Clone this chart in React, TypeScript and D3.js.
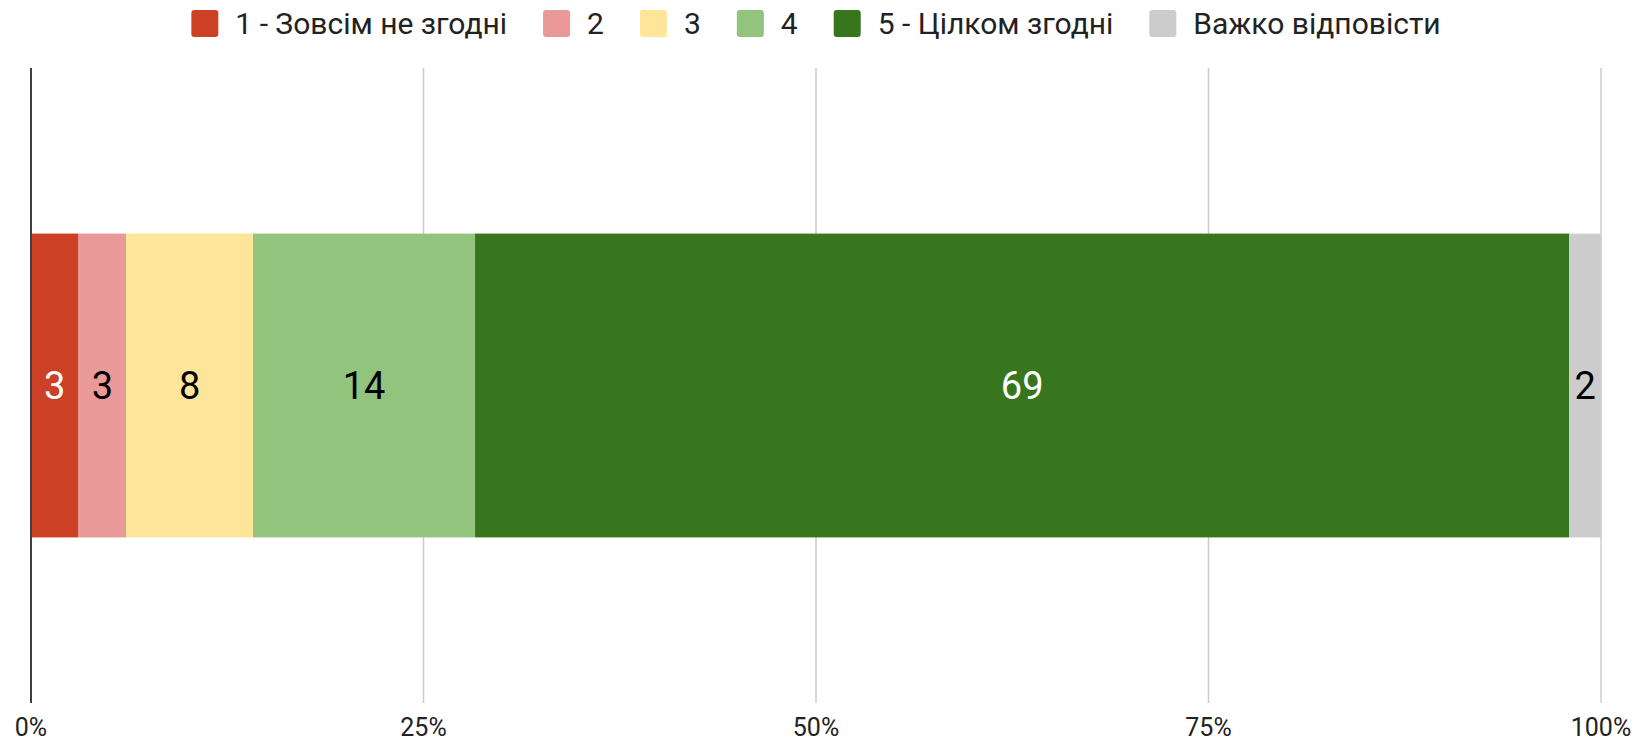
import React, { useEffect, useRef } from 'react';
import * as d3 from 'd3';

// answer categories and share of responses (%), one stacked bar
const categories = ['1 - Зовсім не згодні', '2', '3', '4', '5 - Цілком згодні', 'Важко відповісти'];
const values = [3, 3, 8, 14, 69, 2];
const colors = ['#cc4125', '#ea9999', '#ffe599', '#93c47d', '#38761d', '#cccccc'];
const labelColors = ['#ffffff', '#000000', '#000000', '#000000', '#ffffff', '#000000'];
const ticks = [0, 0.25, 0.5, 0.75, 1];

const App: React.FC = () => {
  const svgRef = useRef<SVGSVGElement | null>(null);

  useEffect(() => {
    if (!svgRef.current) return;
    const svg = d3.select(svgRef.current);
    svg.selectAll('*').remove();

    const width = 1637;
    const height = 742;
    const margin = { top: 68, right: 36, bottom: 39, left: 31 };
    const font = 'Roboto, sans-serif';

    const total = d3.sum(values);
    const x = d3.scaleLinear()
      .domain([0, 1])
      .range([margin.left, width - margin.right]);

    const y = d3.scaleBand()
      .domain(['row'])
      .range([margin.top, height - margin.bottom])
      .paddingInner(0)
      .paddingOuter(0.545);

    // grid + axis labels
    const grid = svg.append('g');
    grid.selectAll('line')
      .data(ticks)
      .join('line')
      .attr('x1', d => x(d))
      .attr('x2', d => x(d))
      .attr('y1', margin.top)
      .attr('y2', height - margin.bottom)
      .attr('stroke', d => d === 0 ? '#333333' : '#cccccc')
      .attr('stroke-width', 1.5);

    grid.selectAll('text')
      .data(ticks)
      .join('text')
      .attr('x', d => x(d))
      .attr('y', 736)
      .attr('text-anchor', 'middle')
      .attr('font-family', font)
      .attr('font-size', 25)
      .attr('fill', '#222222')
      .text(d => d3.format('.0%')(d));

    // stacked segments
    const starts = values.map((_, i) => d3.sum(values.slice(0, i)) / total);
    const segs = values.map((v, i) => ({ v, i, x0: starts[i], x1: starts[i] + v / total }));

    const bars = svg.append('g');
    bars.selectAll('rect')
      .data(segs)
      .join('rect')
      .attr('x', d => x(d.x0))
      .attr('width', d => x(d.x1) - x(d.x0))
      .attr('y', y('row') || 0)
      .attr('height', y.bandwidth())
      .attr('fill', d => colors[d.i]);

    bars.selectAll('text')
      .data(segs)
      .join('text')
      .attr('x', d => (x(d.x0) + x(d.x1)) / 2)
      .attr('y', (y('row') || 0) + y.bandwidth() / 2)
      .attr('dy', '0.36em')
      .attr('text-anchor', 'middle')
      .attr('font-family', font)
      .attr('font-size', 38)
      .attr('fill', d => labelColors[d.i])
      .text(d => d.v);

    // redraw zero axis on top of bars
    svg.append('line')
      .attr('x1', x(0)).attr('x2', x(0))
      .attr('y1', margin.top).attr('y2', height - margin.bottom)
      .attr('stroke', '#333333')
      .attr('stroke-width', 1.5);

    // legend, centered over plot
    const legend = svg.append('g').attr('font-family', font).attr('font-size', 30);
    const items = legend.selectAll('g')
      .data(categories)
      .join('g');
    items.append('rect')
      .attr('width', 27)
      .attr('height', 27)
      .attr('y', 10)
      .attr('rx', 3)
      .attr('fill', (_, i) => colors[i]);
    items.append('text')
      .attr('x', 44)
      .attr('y', 23)
      .attr('dy', '0.36em')
      .attr('fill', '#222222')
      .text(d => d);

    let offset = 0;
    const widths: number[] = [];
    items.each(function () {
      const t = d3.select(this).select('text').node() as SVGTextElement;
      widths.push(44 + t.getComputedTextLength());
    });
    const gap = 36;
    const totalW = d3.sum(widths) + gap * (widths.length - 1);
    const startX = (x(0) + x(1)) / 2 - totalW / 2;
    items.attr('transform', (_, i) => {
      const tx = startX + offset;
      offset += widths[i] + gap;
      return `translate(${tx},0)`;
    });
  }, []);

  return (
    <svg ref={svgRef} width={1637} height={742} style={{ display: 'block', position: 'absolute', left: 0, top: 0, background: '#fff' }}></svg>
  );
};

export default App;
